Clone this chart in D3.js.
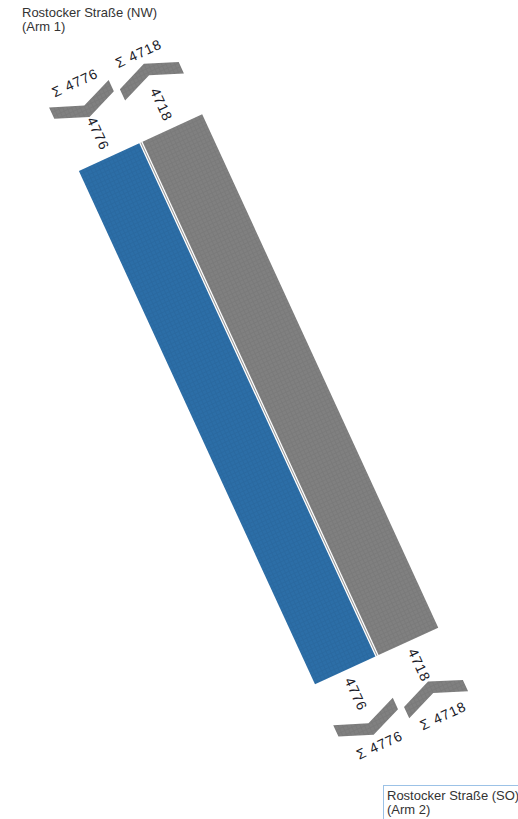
<!DOCTYPE html>
<html><head><meta charset="utf-8">
<script src="https://cdn.jsdelivr.net/npm/d3@7"></script>
<style>html,body{margin:0;padding:0;background:#fff;overflow:hidden}</style>
</head><body><svg id="chart" width="518" height="819"></svg>
<script>
// ---- data ----
const armNames = ["Rostocker Straße (NW)", "Rostocker Straße (SO)"];
const armNumbers = ["(Arm 1)", "(Arm 2)"];
const flowNames = ["NW → SO", "SO → NW"];
const flowFrom = [0, 1];
const flowTo = [1, 0];
const flowValues = [4776, 4718];
const flowColors = ["#2c6ea7", "#808080"];

// ---- layout ----
const svg = d3.select("#chart");
const defs = svg.append("defs");
const patternShade = ["#2a69a0", "#7a7a7a"];
flowColors.forEach((c, i) => {
  const p = defs.append("pattern").attr("id", "pat" + i).attr("patternUnits", "userSpaceOnUse")
    .attr("width", 4).attr("height", 4);
  p.append("rect").attr("width", 4).attr("height", 4).attr("fill", c);
  p.append("rect").attr("x", 3).attr("width", 1).attr("height", 4).attr("fill", patternShade[i]);
  p.append("rect").attr("y", 3).attr("width", 4).attr("height", 1).attr("fill", patternShade[i]);
});

const w = d3.scaleLinear().domain([0, d3.max(flowValues)]).range([0, 66.5]);
const L = 565, gap = 3.5, angle = -24.7;
const g = svg.append("g").attr("transform", `translate(140.9,142.5) rotate(${angle})`);

const flows = flowValues.map((v, i) => ({
  v, i, side: i === 0 ? -1 : 1, dir: flowFrom[i] === 0 ? 1 : -1
}));

// bands
g.selectAll("rect.band").data(flows).join("rect").attr("class", "band")
  .attr("x", d => d.side < 0 ? -gap / 2 - w(d.v) : gap / 2)
  .attr("y", 0).attr("width", d => w(d.v)).attr("height", L)
  .attr("fill", d => `url(#pat${d.i})`);
g.append("line").attr("x1", 0).attr("x2", 0).attr("y1", 0).attr("y2", L)
  .attr("stroke", "#9a9a9a").attr("stroke-width", 1);

// chevrons
const ends = [-57.5, L + 57.5];
const t = 12.5, depth = 6.5;
const line = d3.line();
const chev = [];
ends.forEach(c => flows.forEach(d => chev.push({ c, d })));
g.selectAll("path.chev").data(chev).join("path").attr("class", "chev")
  .attr("d", ({ c, d }) => {
    const inner = d.side * 3.2, outer = d.side * (gap / 2 + w(d.v) + 0.5), mid = (inner + outer) / 2;
    const yE = c - d.dir * depth, yB = c + d.dir * depth;
    return line([[outer, yE - t / 2], [mid, yB - t / 2], [inner, yE - t / 2],
                 [inner, yE + t / 2], [mid, yB + t / 2], [outer, yE + t / 2]]) + "Z";
  })
  .attr("fill", "url(#pat1)");

const fontNum = "'Liberation Sans', Arial, sans-serif";
// value labels along the band
const vl = [];
[-26, L + 26].forEach(y => flows.forEach(d => vl.push({ y, d })));
g.selectAll("text.val").data(vl).join("text").attr("class", "val")
  .attr("transform", ({ y, d }) => `translate(${d.side * (gap / 2 + w(d.v) / 2)},${y}) rotate(90)`)
  .attr("text-anchor", "middle").attr("dominant-baseline", "central")
  .attr("font-family", fontNum).attr("font-size", 14).attr("letter-spacing", 0.9)
  .attr("fill", "#1a1a28").text(({ d }) => d.v);

// sum labels
const sl = [];
[-82, L + 82].forEach(y => flows.forEach(d => sl.push({ y, d })));
g.selectAll("text.sum").data(sl).join("text").attr("class", "sum")
  .attr("transform", ({ y, d }) => `translate(${d.side * 35},${y})`)
  .attr("text-anchor", "middle").attr("dominant-baseline", "central")
  .attr("font-family", fontNum).attr("font-size", 14).attr("letter-spacing", 0.9)
  .attr("fill", "#1a1a28").text(({ d }) => "Σ " + d3.sum(flowValues.filter((_, k) => k === d.i)));

// arm titles
const titleFont = "Arial, 'Liberation Sans', sans-serif";
const t1 = svg.append("text").attr("font-family", titleFont).attr("font-size", 13).attr("fill", "#333");
t1.append("tspan").attr("x", 22).attr("y", 17).text(armNames[0]);
t1.append("tspan").attr("x", 22).attr("y", 31).text(armNumbers[0]);

svg.append("rect").attr("x", 383.5).attr("y", 785.5).attr("width", 200).attr("height", 60)
  .attr("fill", "#fff").attr("stroke", "#9cc2e6").attr("stroke-width", 1);
const t2 = svg.append("text").attr("font-family", titleFont).attr("font-size", 13).attr("fill", "#333");
t2.append("tspan").attr("x", 387).attr("y", 800).text(armNames[1]);
t2.append("tspan").attr("x", 387).attr("y", 814).text(armNumbers[1]);
</script></body></html>
